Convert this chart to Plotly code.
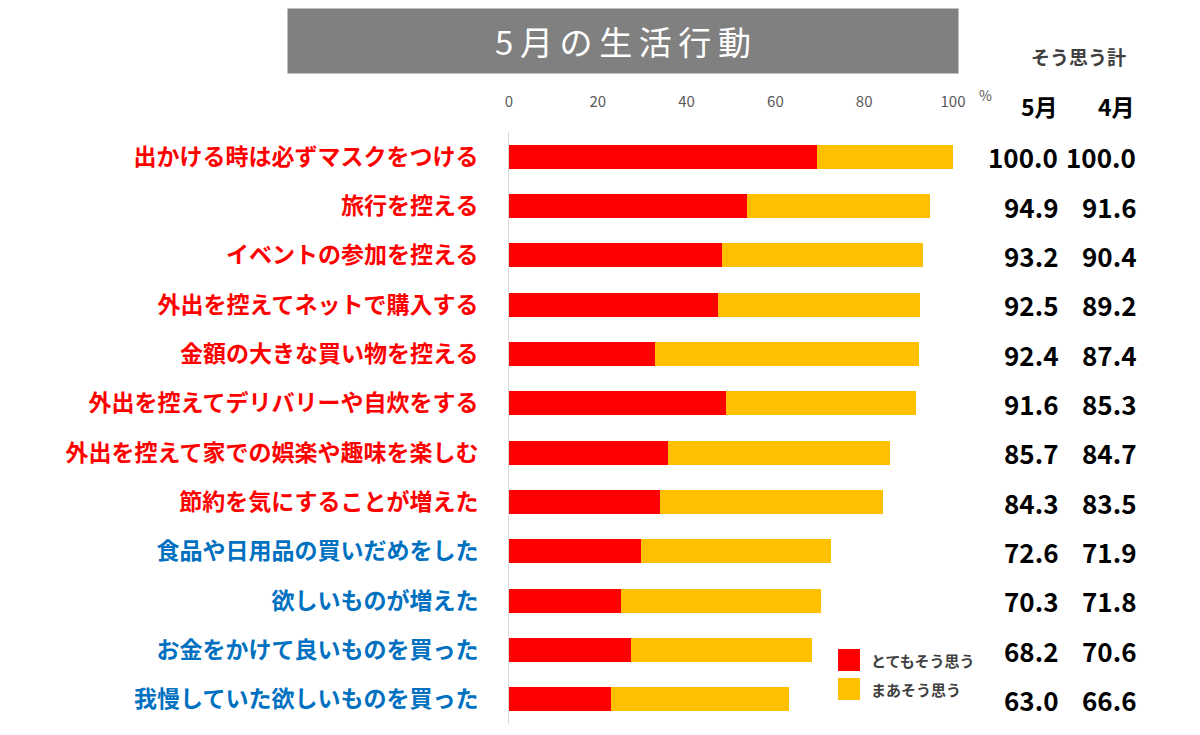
import plotly.graph_objects as go

# survey items, top to bottom
categories = [
    "出かける時は必ずマスクをつける",
    "旅行を控える",
    "イベントの参加を控える",
    "外出を控えてネットで購入する",
    "金額の大きな買い物を控える",
    "外出を控えてデリバリーや自炊をする",
    "外出を控えて家での娯楽や趣味を楽しむ",
    "節約を気にすることが増えた",
    "食品や日用品の買いだめをした",
    "欲しいものが増えた",
    "お金をかけて良いものを買った",
    "我慢していた欲しいものを買った",
]
very_much = [69.3, 53.6, 47.9, 47.0, 32.9, 48.8, 35.7, 34.1, 29.7, 25.2, 27.5, 23.0]
somewhat = [30.7, 41.3, 45.3, 45.5, 59.5, 42.8, 50.0, 50.2, 42.9, 45.1, 40.7, 40.0]
total_may = [100.0, 94.9, 93.2, 92.5, 92.4, 91.6, 85.7, 84.3, 72.6, 70.3, 68.2, 63.0]
total_apr = [100.0, 91.6, 90.4, 89.2, 87.4, 85.3, 84.7, 83.5, 71.9, 71.8, 70.6, 66.6]
x_ticks = [0, 20, 40, 60, 80, 100]

title_text = "5月の生活行動"
series_names = ["とてもそう思う", "まあそう思う"]
RED = "#FF0000"
YELLOW = "#FFC000"
BLUE = "#0070C0"
N_RED_LABELS = 8

FONT = "Noto Sans CJK JP"
W, H = 1200, 735
OFF = 8  # page body margin
L, R, T, B = 501, 255, 124, 19


def px_x(px):
    # reference pixel -> paper x
    return (px - OFF - L) / (W - L - R)


def px_y(py):
    return 1 - (py - OFF - T) / (H - T - B)


ticktext = []
for i, c in enumerate(categories):
    col = RED if i < N_RED_LABELS else BLUE
    ticktext.append('<span style="color:%s"><b>%s</b></span>' % (col, c))

fig = go.Figure()
fig.add_trace(go.Bar(y=categories, x=very_much, orientation="h", name=series_names[0],
                     marker=dict(color=RED, line=dict(width=0)), width=0.49))
fig.add_trace(go.Bar(y=categories, x=somewhat, orientation="h", name=series_names[1],
                     marker=dict(color=YELLOW, line=dict(width=0)), width=0.49))

# right-hand totals
for c, m, a in zip(categories, total_may, total_apr):
    fig.add_annotation(x=px_x(1060), y=c, xref="paper", yref="y", text="<b>%.1f</b>" % m,
                       showarrow=False, xanchor="right", yanchor="middle",
                       font=dict(family=FONT, size=26, color="#000000"))
    fig.add_annotation(x=px_x(1138), y=c, xref="paper", yref="y", text="<b>%.1f</b>" % a,
                       showarrow=False, xanchor="right", yanchor="middle",
                       font=dict(family=FONT, size=26, color="#000000"))


def note(px, py, text, size, color, xanchor="center"):
    fig.add_annotation(x=px_x(px), y=px_y(py), xref="paper", yref="paper", text=text,
                       showarrow=False, xanchor=xanchor, yanchor="middle",
                       font=dict(family=FONT, size=size, color=color))


# column headers
note(1060, 106, "<b>5月</b>", 23, "#000000", "right")
note(1137, 106, "<b>4月</b>", 23, "#000000", "right")
note(1078, 56, "<b>そう思う計</b>", 19, "#404040")
note(985, 95, "%", 14, "#595959")

# title box (thin spaces to mimic the wide letter spacing)
fig.add_annotation(x=px_x(623), y=px_y(41), xref="paper", yref="paper",
                   text="\u2009".join(title_text),
                   showarrow=False, xanchor="center", yanchor="middle",
                   width=668, height=62, bgcolor="#808080",
                   font=dict(family=FONT, size=33, color="#FFFFFF"))

# legend swatches
for k, (name, col) in enumerate(zip(series_names, [RED, YELLOW])):
    cy = 660 + k * 29
    fig.add_shape(type="rect", xref="paper", yref="paper",
                  x0=px_x(838), x1=px_x(860), y0=px_y(cy - 11), y1=px_y(cy + 11),
                  fillcolor=col, line=dict(width=0))
    note(869, cy, "<b>%s</b>" % name, 15, "#404040", "left")

fig.update_layout(
    width=W, height=H, autosize=False,
    barmode="stack", showlegend=False,
    margin=dict(l=L, r=R, t=T, b=B),
    plot_bgcolor="white", paper_bgcolor="white",
    font=dict(family=FONT),
    xaxis=dict(range=[0, 100], side="top", tickvals=x_ticks, showgrid=False, zeroline=False,
               showline=False, ticks="", ticklabelstandoff=21,
               tickfont=dict(family=FONT, size=15, color="#595959")),
    yaxis=dict(categoryorder="array", categoryarray=categories, autorange="reversed",
               tickvals=categories, ticktext=ticktext, showgrid=False, zeroline=False,
               showline=True, linecolor="#D9D9D9", linewidth=1, ticks="", ticklabelstandoff=25,
               tickfont=dict(family=FONT, size=23)),
)

fig.write_html("out.html")
